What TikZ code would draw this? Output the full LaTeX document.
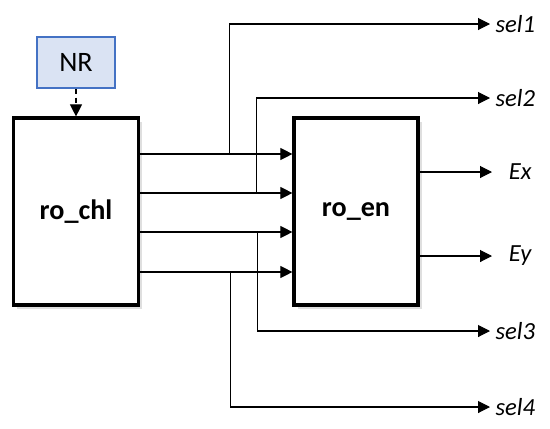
\documentclass[tikz,border=0pt]{standalone}
\usepackage{fontspec}
\setmainfont{Carlito}
\usetikzlibrary{arrows.meta,positioning,calc,shadows}
\definecolor{nrfill}{RGB}{218,227,243}
\definecolor{nrdraw}{RGB}{68,114,196}
\tikzset{
  blk/.style={draw=black, line width=1.8pt, fill=white, minimum width=2.5cm,
              minimum height=3.74cm, font=\fontsize{16}{18}\selectfont\bfseries,
              drop shadow={opacity=0.25, shadow xshift=2pt, shadow yshift=-2pt}},
  nrbox/.style={draw=nrdraw, fill=nrfill, line width=0.9pt, minimum width=1.56cm,
              minimum height=1.02cm, font=\fontsize{16}{18}\selectfont},
  wire/.style={-{Triangle[length=2.4mm,width=2.4mm]}, line width=0.6pt},
  sig/.style={anchor=west, inner sep=3pt, font=\fontsize{14}{16}\selectfont\itshape},
  outsig/.style={anchor=west, inner sep=2pt, font=\fontsize{14}{16}\selectfont\itshape},
}
\begin{document}
\begin{tikzpicture}
  \useasboundingbox (0,0) rectangle (11,8.56);
  \node[blk] (ro_chl) at (1.52,4.33) {ro\_chl};
  \node[blk, minimum width=2.48cm] (ro_en) at (7.12,4.33) {ro\_en};
  \node[nrbox] (nr) at (1.52,7.31) {NR};
  \draw[-{Triangle[length=2.4mm,width=2.4mm]}, densely dashed, line width=0.6pt] (nr) -- (ro_chl);
  % four channels between the two blocks
  \foreach \i/\dy in {1/1.15,2/0.37,3/-0.41,4/-1.21}{
    \coordinate (o\i) at ([yshift=\dy cm]ro_chl.east);
    \coordinate (i\i) at ([yshift=\dy cm]ro_en.west);
    \draw[wire] (o\i) -- (i\i);
  }
  \node[sig] (sel1) at (9.8,8.08) {sel1};
  \node[sig] (sel2) at (9.8,6.60) {sel2};
  \node[sig] (sel3) at (9.8,1.94) {sel3};
  \node[sig] (sel4) at (9.8,0.42) {sel4};
  \draw[wire] ([xshift=1.78cm]o1) |- (sel1.west);
  \draw[wire] ([xshift=2.32cm]o2) |- (sel2.west);
  \draw[wire] ([xshift=2.34cm]o3) |- (sel3.west);
  \draw[wire] ([xshift=1.80cm]o4) |- (sel4.west);
  % outputs
  \node[outsig] (ex) at (10.1,5.12) {Ex};
  \node[outsig] (ey) at (10.1,3.44) {Ey};
  \draw[wire] (ro_en.east |- ex) -- ([xshift=-0.26cm]ex.west);
  \draw[wire] (ro_en.east |- ey) -- ([xshift=-0.26cm]ey.west);
\end{tikzpicture}
\end{document}
